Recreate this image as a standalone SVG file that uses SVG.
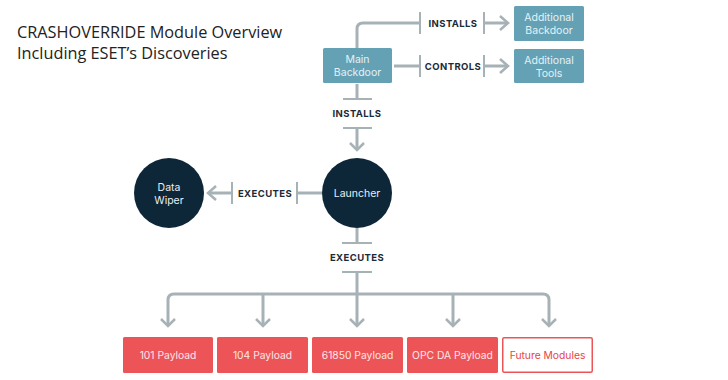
<svg xmlns="http://www.w3.org/2000/svg" width="728" height="380" viewBox="0 0 728 380">
<defs>
<style>
.title{font-family:"Open Sans","Liberation Sans",sans-serif;font-size:16.3px;fill:#222}
.teal{fill:#64a1b5}
.tealtxt{font-family:"Inter","Liberation Sans",sans-serif;font-size:10.5px;fill:#e3f1f5;text-anchor:middle}
.dark{fill:#0d2638}
.darktxt{font-family:"Inter","Liberation Sans",sans-serif;font-size:10.5px;fill:#e8eef2;text-anchor:middle}
.red{fill:#ec5457}
.redtxt{font-family:"Inter","Liberation Sans",sans-serif;font-size:10.3px;fill:#fde6e6;text-anchor:middle}
.fut{fill:#fff;stroke:#ec5457;stroke-width:1.5}
.futtxt{font-family:"Inter","Liberation Sans",sans-serif;font-size:10.3px;fill:#e64548;text-anchor:middle}
.lbl{font-family:"Inter","Liberation Sans",sans-serif;font-size:9.5px;font-weight:700;fill:#1c2a38;text-anchor:middle;letter-spacing:0.4px}
.ln{fill:none;stroke:#a7b2b6;stroke-width:3}
.bar{fill:none;stroke:#a7b2b6;stroke-width:2}
.ah{fill:none;stroke:#a7b2b6;stroke-width:2.5}
</style>
</defs>
<rect width="728" height="380" fill="#fff"/>
<text class="title" x="17" y="38">CRASHOVERRIDE Module Overview</text>
<text class="title" x="17" y="59">Including ESET’s Discoveries</text>

<g id="connectors">
<path class="ln" d="M357 48 V29 Q357 23 363 23 H420"/>
<path class="bar" d="M420 12 V34"/>
<path class="bar" d="M484 12 V34"/>
<path class="ln" d="M484 23 H507"/>
<path class="ah" d="M500 16 L508 23 L500 30"/>
<path class="ln" d="M394 66 H420"/>
<path class="bar" d="M420 55 V77"/>
<path class="bar" d="M484 55 V77"/>
<path class="ln" d="M484 66 H507"/>
<path class="ah" d="M500 59 L508 66 L500 73"/>
<path class="ln" d="M357 84 V99"/>
<path class="bar" d="M343 99 H372"/>
<path class="bar" d="M343 128 H372"/>
<path class="ln" d="M357 128 V150"/>
<path class="ah" d="M350 143 L357 150 L364 143"/>
<path class="ln" d="M322 193 H297"/>
<path class="bar" d="M297 182 V204"/>
<path class="bar" d="M232 182 V204"/>
<path class="ln" d="M232 193 H209"/>
<path class="ah" d="M216 186 L208 193 L216 200"/>
<path class="ln" d="M357 228 V243"/>
<path class="bar" d="M342 243 H372"/>
<path class="bar" d="M342 272 H372"/>
<path class="ln" d="M357 272 V326"/>
<path class="ln" d="M168 326 V300 Q168 294 174 294 H543 Q549 294 549 300 V326"/>
<path class="ln" d="M263 294 V326"/>
<path class="ln" d="M453 294 V326"/>
<path class="ah" d="M161 319 L168 326 L175 319"/>
<path class="ah" d="M256 319 L263 326 L270 319"/>
<path class="ah" d="M350 319 L357 326 L364 319"/>
<path class="ah" d="M446 319 L453 326 L460 319"/>
<path class="ah" d="M542 319 L549 326 L556 319"/>
<text class="lbl" x="453" y="27">INSTALLS</text>
<text class="lbl" x="453" y="70">CONTROLS</text>
<text class="lbl" x="357" y="117">INSTALLS</text>
<text class="lbl" x="265" y="197">EXECUTES</text>
<text class="lbl" x="357" y="261">EXECUTES</text>
</g>

<g id="main-backdoor">
<rect class="teal" x="323" y="48" width="69" height="35" rx="1.5"/>
<text class="tealtxt" x="357.5" y="63">Main</text>
<text class="tealtxt" x="357.5" y="75.5">Backdoor</text>
</g>
<g id="additional-backdoor">
<rect class="teal" x="514" y="6" width="70" height="35" rx="1.5"/>
<text class="tealtxt" x="549" y="21">Additional</text>
<text class="tealtxt" x="549" y="33.5">Backdoor</text>
</g>
<g id="additional-tools">
<rect class="teal" x="514" y="49" width="70" height="34" rx="1.5"/>
<text class="tealtxt" x="549" y="64">Additional</text>
<text class="tealtxt" x="549" y="76.5">Tools</text>
</g>
<g id="launcher">
<circle class="dark" cx="357" cy="193" r="35"/>
<text class="darktxt" x="357" y="197">Launcher</text>
</g>
<g id="data-wiper">
<circle class="dark" cx="169" cy="193" r="35"/>
<text class="darktxt" x="169" y="191">Data</text>
<text class="darktxt" x="169" y="203.5">Wiper</text>
</g>
<g id="p101">
<rect class="red" x="123" y="337" width="90" height="36" rx="1.5"/>
<text class="redtxt" x="168" y="359">101 Payload</text>
</g>
<g id="p104">
<rect class="red" x="217" y="337" width="91" height="36" rx="1.5"/>
<text class="redtxt" x="262.5" y="359">104 Payload</text>
</g>
<g id="p61850">
<rect class="red" x="312" y="337" width="91" height="36" rx="1.5"/>
<text class="redtxt" x="357.5" y="359">61850 Payload</text>
</g>
<g id="popc">
<rect class="red" x="407" y="337" width="91" height="36" rx="1.5"/>
<text class="redtxt" x="452.5" y="359">OPC DA Payload</text>
</g>
<g id="future">
<rect class="fut" x="502.75" y="337.75" width="89.5" height="34.5" rx="1.5"/>
<text class="futtxt" x="547.5" y="359">Future Modules</text>
</g>
</svg>
